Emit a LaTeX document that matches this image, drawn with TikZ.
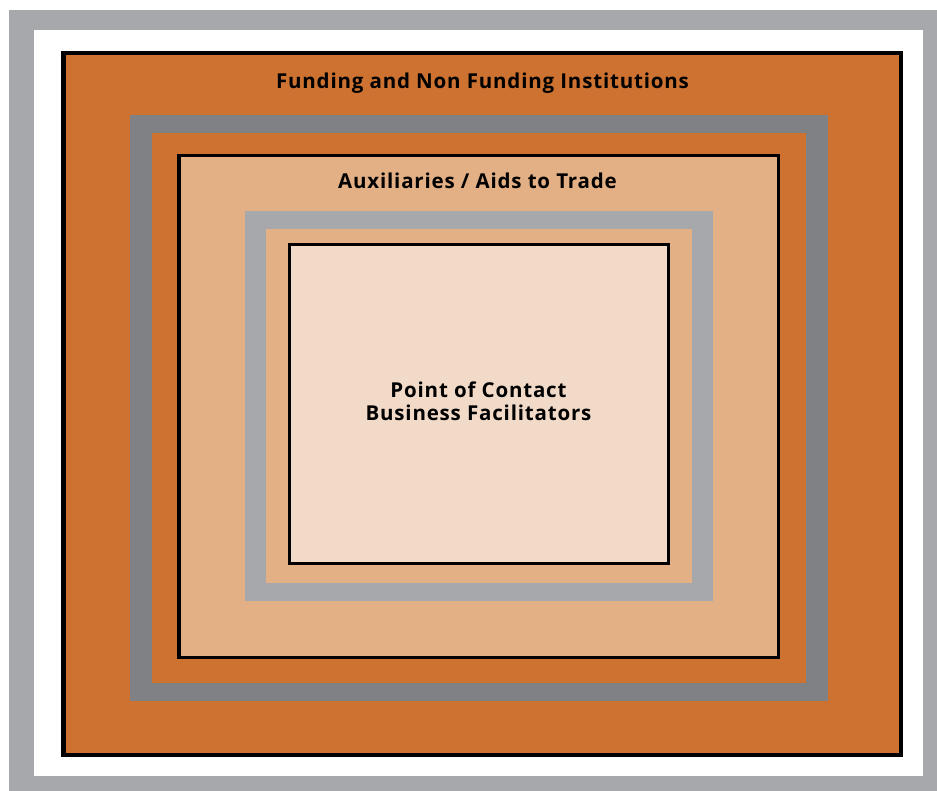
\documentclass[tikz,border=0pt]{standalone}
\usepackage{fontspec}
\setmainfont{Open Sans}[LetterSpace=4]
\definecolor{framegray}{HTML}{A7A8AC}
\definecolor{darkband}{HTML}{808184}
\definecolor{lightband}{HTML}{A7A8AB}
\definecolor{deeporange}{HTML}{CD7230}
\definecolor{midorange}{HTML}{E3AF84}
\definecolor{paleorange}{HTML}{F2DAC8}
\tikzset{
  label text/.style={font=\bfseries\fontsize{20.5}{23}\selectfont, text=black, inner sep=0pt, align=center},
  boxline/.style={draw=black}
}
\begin{document}
\begin{tikzpicture}[x=1pt,y=-1pt]
\useasboundingbox (0,0) rectangle (937,791);
\fill[white] (0,0) rectangle (937,791);
% outer gray frame
\fill[framegray] (9,10) rectangle (937,791);
\fill[white] (34,30) rectangle (923,776);
% level 1
\fill[deeporange] (61,51) rectangle (903,757);
\draw[boxline, line width=4.5pt] (63.25,53.25) rectangle (900.75,754.75);
% dark gray band
\fill[darkband] (130,115) rectangle (828,701);
\fill[deeporange] (152,133) rectangle (806,683);
% level 2
\fill[midorange] (177,154) rectangle (780,659);
\draw[boxline, line width=3.5pt] (178.75,155.75) rectangle (778.25,657.25);
% light gray band
\fill[lightband] (245,211) rectangle (713,601);
\fill[midorange] (266,229) rectangle (692,583);
% level 3
\fill[paleorange] (288,243) rectangle (670,565);
\draw[boxline, line width=3pt] (289.5,244.5) rectangle (668.5,563.5);
% texts
\node[label text, anchor=base] (t1) at (482.5,89) {Funding and Non Funding Institutions};
\node[label text, anchor=base] (t2) at (477.5,189) {Auxiliaries / Aids to Trade};
\node[label text] (t3) at (478.5,401.5) {Point of Contact\\Business Facilitators};
\end{tikzpicture}
\end{document}
